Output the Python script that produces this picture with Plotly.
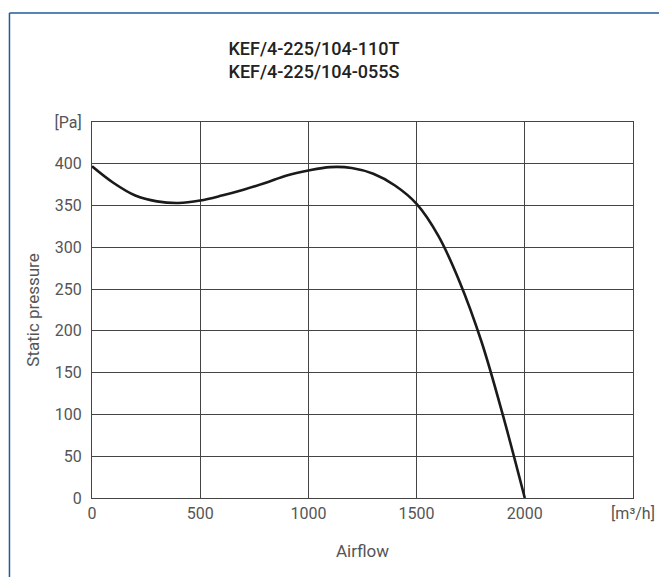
import plotly.graph_objects as go

airflow = [0, 100, 200, 300, 400, 500, 600, 700, 800, 900, 1000, 1100, 1200, 1300, 1400, 1500, 1600, 1700, 1800, 1900, 2000]
pressure = [397, 377, 362, 355, 353, 356, 362, 369, 377, 386, 392, 396, 395, 388, 374, 352, 314, 258, 187, 98, 0]

x_tickvals = [0, 500, 1000, 1500, 2000, 2500]
x_ticktext = ["0", "500", "1000", "1500", "2000", "[m³/h]"]
y_tickvals = [0, 50, 100, 150, 200, 250, 300, 350, 400, 450]
y_ticktext = ["0", "50", "100", "150", "200", "250", "300", "350", "400", "[Pa]"]

title_lines = ["KEF/4-225/104-110T", "KEF/4-225/104-055S"]

FONT = "Roboto"
grid = "#444444"

fig = go.Figure()
fig.add_trace(go.Scatter(
    x=airflow, y=pressure, mode="lines",
    line=dict(color="#1a1a1a", width=2.6, shape="spline", smoothing=1.0),
    hoverinfo="skip", showlegend=False,
))

# page has an 8px body margin, so figure coords = viewport coords - 8
W, H = 659, 569
L, T = 84, 114
R = W - 628
B = H - 490
pw = W - L - R
ph = H - T - B

def px_x(p):
    return (p - L) / pw

def px_y(p):
    return (H - B - p) / ph

fig.update_layout(
    width=W, height=H,
    margin=dict(l=L, r=R, t=T, b=B),
    paper_bgcolor="white", plot_bgcolor="white",
    font=dict(family=FONT, color="#555555", size=16),
    title=dict(
        text="<br>".join(title_lines),
        x=306 / W, xref="container", xanchor="center",
        y=1 - 47 / H, yref="container", yanchor="middle",
        font=dict(family=FONT, size=18, color="#222222", weight=500),
    ),
    xaxis=dict(
        range=[0, 2500], tickvals=x_tickvals, ticktext=x_ticktext,
        showgrid=True, gridcolor=grid, gridwidth=1,
        showline=True, linecolor=grid, linewidth=1, mirror=True,
        zeroline=False, ticks="", ticklabelstandoff=1,
        tickfont=dict(size=16, color="#555555"),
        title=dict(text="Airflow", standoff=22, font=dict(size=17, color="#555555")),
        fixedrange=True,
    ),
    yaxis=dict(
        range=[0, 450], tickvals=y_tickvals, ticktext=y_ticktext,
        showgrid=True, gridcolor=grid, gridwidth=1,
        showline=True, linecolor=grid, linewidth=1, mirror=True,
        zeroline=False, ticks="", ticklabelstandoff=6,
        tickfont=dict(size=16, color="#555555"),
        title=dict(text="Static pressure", standoff=10, font=dict(size=17, color="#555555")),
        fixedrange=True,
    ),
    shapes=[
        dict(type="line", xref="paper", yref="paper",
             x0=px_x(1), x1=px_x(700), y0=px_y(5), y1=px_y(5),
             line=dict(color="#1f5b9a", width=1.5)),
        dict(type="line", xref="paper", yref="paper",
             x0=px_x(1), x1=px_x(1), y0=px_y(5), y1=px_y(640),
             line=dict(color="#1f5b9a", width=1.5)),
    ],
)

fig.write_html("out.html")
